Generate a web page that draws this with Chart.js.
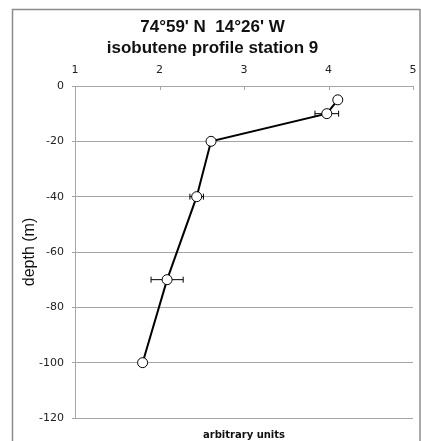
<!DOCTYPE html>
<html>
<head>
<meta charset="utf-8">
<script src="https://cdn.jsdelivr.net/npm/chart.js@4"></script>
<style>
  html, body { margin: 0; padding: 0; background: #fff; }
  #wrap { width: 421px; height: 441px; }
</style>
</head>
<body>
<div id="wrap"><canvas id="chart" width="421" height="441"></canvas></div>
<script>
// values
const depths = [-5, -10, -20, -40, -70, -100];
const isobutene = [4.11, 3.98, 2.61, 2.44, 2.09, 1.80];
const errors = [0, 0.14, 0.03, 0.08, 0.19, 0];
const titleLines = ["74°59' N  14°26' W", 'isobutene profile station 9'];

const gridGray = '#a6a6a6';

// frame, error bars and the little down ticks on the top axis
const extras = {
  id: 'extras',
  beforeDraw(chart) {
    const ctx = chart.ctx;
    ctx.save();
    ctx.strokeStyle = '#8c8c8c';
    ctx.lineWidth = 1.5;
    ctx.strokeRect(12.5, 9.5, 407.5, 450);
    ctx.restore();
  },
  beforeDatasetsDraw(chart) {
    const { ctx, scales: { x, y } } = chart;
    ctx.save();
    ctx.strokeStyle = gridGray;
    ctx.lineWidth = 1;
    x.ticks.forEach(t => {
      const px = Math.round(x.getPixelForValue(t.value)) + 0.5;
      ctx.beginPath();
      ctx.moveTo(px, chart.chartArea.top);
      ctx.lineTo(px, chart.chartArea.top + 4);
      ctx.stroke();
    });
    ctx.strokeStyle = '#000';
    isobutene.forEach((v, i) => {
      if (!errors[i]) return;
      const x0 = x.getPixelForValue(v - errors[i]);
      const x1 = x.getPixelForValue(v + errors[i]);
      const py = y.getPixelForValue(depths[i]);
      ctx.beginPath();
      ctx.moveTo(x0, py); ctx.lineTo(x1, py);
      ctx.moveTo(x0, py - 3); ctx.lineTo(x0, py + 3);
      ctx.moveTo(x1, py - 3); ctx.lineTo(x1, py + 3);
      ctx.stroke();
    });
    ctx.restore();
  }
};

new Chart(document.getElementById('chart'), {
  type: 'scatter',
  data: {
    datasets: [{
      data: isobutene.map((v, i) => ({ x: v, y: depths[i] })),
      showLine: true,
      borderColor: '#000',
      borderWidth: 2,
      pointRadius: 5,
      pointBorderWidth: 1,
      pointBackgroundColor: '#fff',
      pointBorderColor: '#000'
    }]
  },
  options: {
    responsive: false,
    animation: false,
    layout: { padding: { left: 12, right: 8, top: 0, bottom: 0 } },
    plugins: {
      legend: { display: false },
      tooltip: { enabled: false },
      title: {
        display: true,
        text: titleLines,
        color: '#111',
        font: { family: 'Liberation Sans', size: 17, weight: 'bold', lineHeight: 1.28 },
        padding: { top: 16, bottom: 0 }
      }
    },
    scales: {
      x: {
        type: 'linear',
        position: 'top',
        min: 1, max: 5,
        ticks: { stepSize: 1, color: '#222', font: { family: 'DejaVu Sans', size: 11 }, padding: 9, maxRotation: 0, minRotation: 0 },
        grid: { display: false, drawTicks: false },
        border: { display: true, color: gridGray },
        afterFit(s) {
          s.height = 86 - (16 + 2 * 17 * 1.28);
          s.paddingRight = 0;
        }
      },
      x2: {
        type: 'linear',
        position: 'bottom',
        min: 1, max: 5,
        ticks: { display: false },
        grid: { display: false },
        border: { display: false },
        title: {
          display: true,
          text: 'arbitrary units',
          color: '#111',
          font: { family: 'DejaVu Sans', size: 10, weight: 'bold' },
          padding: { top: 0, bottom: 0 }
        },
        afterFit(s) { s.height = 23; s.paddingRight = 0; }
      },
      y: {
        min: -120, max: 0,
        ticks: { stepSize: 20, color: '#222', font: { family: 'DejaVu Sans', size: 11 }, padding: 8 },
        grid: { color: gridGray, tickLength: 3 },
        border: { color: gridGray },
        title: {
          display: true,
          text: 'depth (m)',
          color: '#111',
          font: { family: 'Liberation Sans', size: 16 },
          padding: { top: 8, bottom: 4 }
        },
        afterFit(s) { s.width = 63; }
      }
    }
  },
  plugins: [extras]
});
</script>
</body>
</html>
